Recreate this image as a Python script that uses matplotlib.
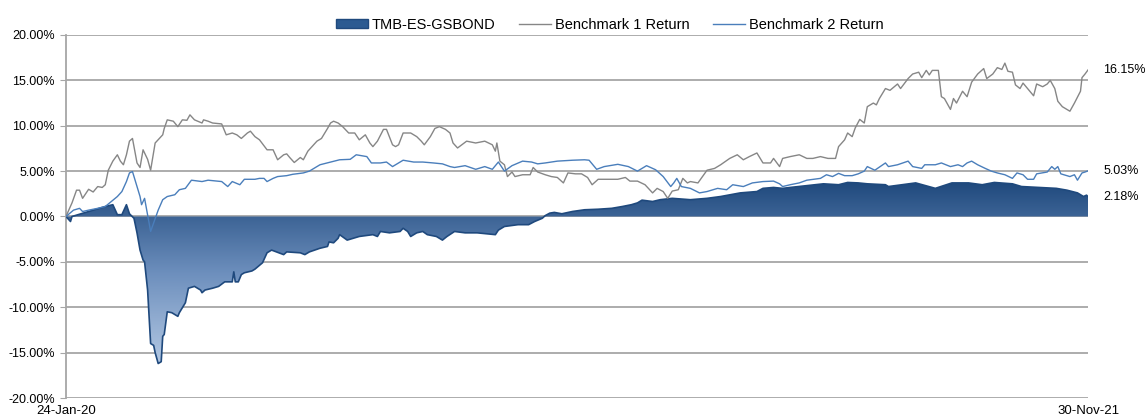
import numpy as np
import pandas as pd
import matplotlib
matplotlib.use("Agg")
import matplotlib.pyplot as plt
import matplotlib.dates as mdates
from matplotlib.colors import LinearSegmentedColormap
from matplotlib.patches import Patch, Polygon
from matplotlib.lines import Line2D

plt.rcParams["font.family"] = ["Liberation Sans", "DejaVu Sans"]

start_date = "2020-01-24"
end_date = "2021-11-30"

# fund return (%), sampled by days since start
fund_days = [0, 3, 4, 15, 26, 31, 34, 37, 40, 42, 45, 47, 49, 51, 52, 54, 56, 58, 59, 61,
             63, 64, 65, 67, 70, 74, 75, 79, 81, 85, 89, 90, 92, 97, 101, 105, 110, 111, 112, 114,
             116, 118, 123, 125, 130, 133, 136, 144, 146, 155, 158, 161, 168, 173, 174, 177, 180, 181, 186, 194,
             203, 206, 208, 214, 221, 223, 226, 228, 232, 236, 239, 245, 249, 252, 257, 264, 272, 284, 286, 290,
             299, 306, 310, 315, 317, 320, 323, 328, 335, 343, 352, 361, 368, 374, 378, 381, 388, 393, 401, 413,
             424, 433, 446, 457, 461, 468, 474, 479, 490, 501, 511, 517, 524, 530, 542, 544, 553, 562, 575, 586,
             597, 606, 614, 626, 632, 644, 655, 662, 669, 673, 675, 676]
fund_ret = [0.0, -0.55, 0.0, 0.55, 1.1, 1.3, 0.2, 0.2, 1.3, 0.3, -0.2, -1.8, -3.7, -4.8, -5.0, -8.1, -14.0, -14.2, -15.0, -16.2,
            -16.0, -13.2, -13.0, -10.5, -10.6, -11.0, -10.6, -9.5, -7.9, -7.7, -8.1, -8.4, -8.1, -7.9, -7.7, -7.2, -7.2, -6.1, -7.2, -7.2,
            -6.4, -6.2, -6.0, -5.8, -5.1, -4.0, -3.7, -4.2, -3.9, -4.0, -4.2, -3.9, -3.5, -3.3, -2.8, -2.9, -2.4, -2.0, -2.6, -2.2,
            -2.0, -2.2, -1.65, -1.8, -1.65, -1.3, -1.65, -2.2, -1.8, -1.65, -2.0, -2.2, -2.6, -2.2, -1.65, -1.8, -1.8, -2.0, -1.5, -1.1,
            -0.9, -0.9, -0.55, -0.2, 0.1, 0.37, 0.45, 0.3, 0.55, 0.74, 0.8, 0.9, 1.1, 1.3, 1.5, 1.8, 1.65, 1.85, 2.0, 1.85,
            2.0, 2.2, 2.6, 2.75, 3.1, 3.2, 3.1, 3.2, 3.4, 3.6, 3.5, 3.75, 3.7, 3.6, 3.5, 3.3, 3.5, 3.7, 3.1, 3.7,
            3.7, 3.5, 3.75, 3.6, 3.3, 3.2, 3.1, 2.9, 2.6, 2.2, 2.35, 2.18]

# benchmark 1 return (%)
bm1_days = [0, 4, 7, 9, 11, 15, 18, 21, 24, 26, 28, 31, 34, 36, 38, 40, 42, 44, 47, 49,
            51, 54, 56, 59, 64, 65, 67, 71, 74, 77, 80, 82, 85, 90, 91, 94, 97, 103, 106, 110,
            113, 116, 120, 122, 125, 128, 133, 137, 140, 144, 146, 148, 151, 155, 157, 160, 166, 169, 173, 175,
            177, 180, 183, 187, 191, 194, 198, 201, 203, 206, 210, 212, 216, 218, 220, 223, 228, 232, 235, 237,
            241, 244, 247, 251, 254, 256, 259, 265, 271, 277, 282, 284, 285, 287, 290, 292, 295, 297, 302, 307,
            309, 312, 317, 321, 325, 329, 332, 337, 341, 345, 348, 352, 358, 365, 370, 373, 378, 383, 388, 391,
            395, 398, 401, 405, 408, 411, 413, 418, 424, 429, 433, 439, 444, 448, 452, 457, 461, 466, 468, 472,
            474, 479, 485, 490, 494, 499, 504, 509, 511, 515, 517, 520, 522, 525, 528, 530, 534, 536, 538, 542,
            545, 550, 552, 557, 560, 564, 566, 569, 571, 573, 577, 579, 581, 585, 587, 589, 593, 596, 599, 603,
            607, 609, 613, 616, 619, 621, 623, 626, 628, 631, 633, 636, 640, 642, 646, 649, 651, 654, 656, 659,
            664, 667, 671, 672, 674, 676]
bm1_ret = [0.0, 1.5, 2.9, 2.9, 2.0, 3.0, 2.7, 3.3, 3.2, 3.5, 5.1, 6.1, 6.8, 6.1, 5.7, 6.8, 8.3, 8.6, 5.9, 5.4,
           7.35, 6.3, 5.1, 8.1, 9.0, 9.7, 10.65, 10.5, 9.9, 10.65, 10.6, 11.2, 10.65, 10.3, 10.65, 10.5, 10.3, 10.2, 9.0, 9.2,
           9.0, 8.6, 9.2, 9.4, 8.8, 8.45, 7.35, 7.35, 6.25, 6.8, 6.9, 6.5, 5.95, 6.5, 6.25, 7.2, 8.3, 8.6, 9.7, 10.3,
           10.5, 10.3, 9.9, 9.2, 9.2, 8.45, 9.0, 8.1, 7.7, 8.3, 9.6, 9.6, 7.9, 7.7, 7.9, 9.2, 9.2, 8.8, 8.3, 7.9,
           8.8, 9.7, 9.9, 9.6, 9.2, 8.1, 7.55, 8.3, 8.1, 8.3, 7.9, 7.2, 8.1, 6.1, 5.7, 4.4, 4.9, 4.4, 4.6, 4.6,
           5.4, 4.9, 4.6, 4.4, 4.3, 3.7, 4.8, 4.7, 4.7, 4.3, 3.5, 4.1, 4.1, 4.1, 4.3, 3.9, 3.9, 3.5, 2.6, 3.1,
           2.75, 2.0, 2.8, 2.95, 4.2, 3.7, 3.85, 3.7, 5.1, 5.3, 5.7, 6.4, 6.8, 6.25, 6.6, 7.0, 5.9, 5.9, 6.4, 5.5,
           6.4, 6.6, 6.8, 6.4, 6.4, 6.6, 6.4, 6.4, 7.7, 8.45, 9.2, 8.8, 9.75, 10.7, 10.3, 12.1, 12.5, 12.3, 13.0, 14.1,
           13.9, 14.6, 14.1, 15.2, 15.7, 15.9, 15.3, 16.1, 15.6, 16.1, 16.1, 13.2, 13.0, 11.8, 13.0, 12.5, 13.8, 13.2, 14.8, 15.7,
           16.3, 15.2, 15.7, 16.4, 16.2, 16.9, 16.0, 15.9, 14.5, 14.1, 14.7, 14.1, 13.3, 14.6, 14.3, 14.6, 15.0, 14.1, 12.7, 12.1,
           11.6, 12.5, 13.8, 15.3, 15.7, 16.15]

# benchmark 2 return (%)
bm2_days = [0, 5, 9, 11, 15, 21, 26, 30, 34, 37, 40, 42, 44, 47, 49, 50, 52, 56, 58, 61,
            64, 67, 72, 75, 79, 83, 90, 94, 103, 107, 110, 115, 118, 125, 128, 131, 133, 137, 140, 146,
            150, 157, 161, 168, 175, 181, 188, 192, 199, 202, 208, 212, 216, 219, 223, 230, 236, 243, 249, 254,
            257, 264, 271, 277, 282, 286, 290, 295, 302, 308, 312, 317, 325, 335, 343, 346, 351, 356, 365, 372,
            378, 384, 390, 395, 400, 402, 404, 407, 413, 419, 424, 431, 437, 441, 448, 454, 461, 468, 472, 474,
            479, 485, 490, 499, 503, 507, 511, 515, 520, 524, 528, 530, 535, 542, 544, 550, 557, 560, 566, 568,
            575, 579, 585, 590, 593, 596, 599, 603, 608, 612, 616, 621, 626, 629, 633, 636, 640, 642, 649, 652,
            654, 656, 658, 664, 667, 669, 672, 674, 676]
bm2_ret = [0.0, 0.7, 0.9, 0.55, 0.7, 0.9, 1.1, 1.65, 2.2, 2.75, 3.85, 4.8, 4.95, 3.3, 2.2, 1.3, 2.0, -1.65, -0.7, 0.7,
           1.85, 2.2, 2.4, 2.95, 3.1, 4.0, 3.85, 4.0, 3.85, 3.3, 3.85, 3.5, 4.1, 4.1, 4.2, 4.2, 3.85, 4.2, 4.4, 4.5,
           4.65, 4.8, 5.0, 5.7, 6.0, 6.25, 6.3, 6.8, 6.6, 5.9, 5.9, 6.0, 5.5, 5.8, 6.2, 6.0, 6.0, 5.9, 5.8, 5.5,
           5.4, 5.6, 5.2, 5.5, 5.2, 6.0, 5.0, 5.6, 6.1, 6.0, 5.8, 5.9, 6.1, 6.2, 6.25, 6.2, 5.2, 5.5, 5.75, 5.5,
           5.0, 5.6, 5.15, 4.4, 3.3, 3.7, 4.2, 3.3, 3.1, 2.6, 2.75, 3.1, 2.95, 3.5, 3.3, 3.7, 3.85, 3.9, 3.6, 3.3,
           3.5, 3.7, 4.0, 4.2, 4.6, 4.4, 4.75, 4.5, 4.5, 4.7, 5.0, 5.5, 5.1, 5.9, 5.5, 5.7, 6.1, 5.5, 5.3, 5.7,
           5.7, 5.9, 5.5, 5.7, 5.5, 5.9, 6.1, 5.7, 5.3, 5.0, 4.8, 4.6, 4.2, 4.8, 4.6, 4.1, 4.1, 4.7, 4.9, 5.5,
           5.2, 5.5, 4.7, 4.4, 4.6, 4.0, 4.8, 4.9, 5.03]

y_ticks = [-20, -15, -10, -5, 0, 5, 10, 15, 20]

fund_name = "TMB-ES-GSBOND"
bm1_name = "Benchmark 1 Return"
bm2_name = "Benchmark 2 Return"


def to_dates(days):
    return pd.Timestamp(start_date) + pd.to_timedelta(days, unit="D")


fund_x = mdates.date2num(to_dates(fund_days))
bm1_x = mdates.date2num(to_dates(bm1_days))
bm2_x = mdates.date2num(to_dates(bm2_days))
x0 = mdates.date2num(pd.Timestamp(start_date))
x1 = mdates.date2num(pd.Timestamp(end_date))

fig = plt.figure(figsize=(11.47, 4.19), dpi=100)
ax = fig.add_axes([0.0575, 0.0501, 0.8911, 0.8664])

grid_col = "#a6a6a6"
for v in y_ticks:
    ax.axhline(v, color=grid_col, lw=1.3, zorder=1)

# area with vertical gradient, clipped to the fund polygon
poly_xy = np.column_stack([np.r_[fund_x, fund_x[::-1]],
                           np.r_[fund_ret, np.zeros(len(fund_ret))]])
clip = Polygon(poly_xy, closed=True, facecolor="none", edgecolor="none")
ax.add_patch(clip)
cmap = LinearSegmentedColormap.from_list("fund", ["#b3c8e3", "#6d8fbd", "#1f497d"])
grad = np.linspace(0, 1, 256).reshape(-1, 1)
img = ax.imshow(grad, cmap=cmap, origin="lower", aspect="auto",
                extent=[x0, x1, min(fund_ret), max(fund_ret)], zorder=2)
img.set_clip_path(clip)
ax.plot(fund_x, fund_ret, color="#1f497d", lw=1.2, zorder=3)

ax.plot(bm1_x, bm1_ret, color="#868686", lw=1.0, zorder=4)
ax.plot(bm2_x, bm2_ret, color="#4a7ebb", lw=1.0, zorder=5)

ax.set_xlim(x0, x1)
ax.set_ylim(-20, 20)
ax.set_yticks(y_ticks)
ax.set_yticklabels([f"{v:.2f}%" for v in y_ticks])
ax.set_xticks([x0, x1])
ax.set_xticklabels([pd.Timestamp(start_date).strftime("%d-%b-%y"),
                    pd.Timestamp(end_date).strftime("%d-%b-%y")])
ax.tick_params(axis="y", length=4, color=grid_col, labelsize=9, pad=4)
ax.tick_params(axis="x", length=0, labelsize=9.5, pad=5)
for s in ["top", "right", "bottom"]:
    ax.spines[s].set_visible(False)
ax.spines["left"].set_color(grid_col)
ax.spines["left"].set_linewidth(1.3)

# end-of-period labels
for val in [bm1_ret[-1], bm2_ret[-1], fund_ret[-1]]:
    ax.annotate(f"{val:.2f}%", xy=(x1, val), xytext=(11, 0), textcoords="offset points",
                va="center", ha="left", fontsize=9, annotation_clip=False)

handles = [Patch(facecolor="#2b5a91", edgecolor="#1f497d", label=fund_name),
           Line2D([], [], color="#868686", lw=1.0, label=bm1_name),
           Line2D([], [], color="#4a7ebb", lw=1.0, label=bm2_name)]
ax.legend(handles=handles, loc="lower center", bbox_to_anchor=(0.532, 0.985), ncol=3,
          frameon=False, fontsize=10.5, handlelength=2.2, handleheight=0.55,
          columnspacing=1.6, handletextpad=0.25, borderpad=0.1)

fig.savefig("out.png", dpi=100)
